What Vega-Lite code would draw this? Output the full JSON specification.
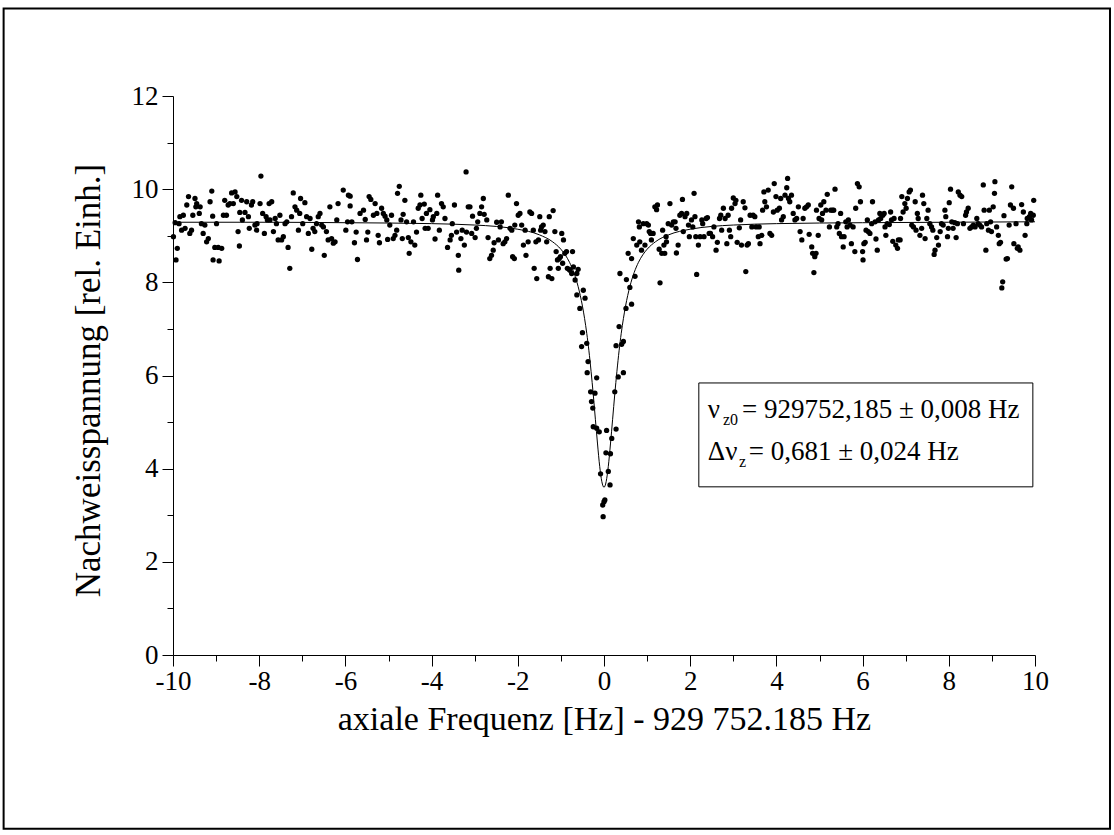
{
"$schema": "https://vega.github.io/schema/vega-lite/v6.json",
"autosize": {"type": "none"},
"padding": {"left": 173, "top": 96, "right": 79, "bottom": 180},
"width": 862,
"height": 559,
"background": "white",
"config": {"view": {"stroke": null}, "font": "Liberation Serif, Times New Roman, Times, serif"},
"datasets": {
"one": [{"k": 1}],
"curve": [
{"x":-10,"y":9.29},{"x":-8,"y":9.29},{"x":-6,"y":9.28},{"x":-4,"y":9.26},{"x":-3,"y":9.23},{"x":-2.5,"y":9.2},{"x":-2,"y":9.14},{"x":-1.5,"y":9.02},{"x":-1.2,"y":8.875},{"x":-1,"y":8.71},{"x":-0.9,"y":8.59},{"x":-0.8,"y":8.43},{"x":-0.7,"y":8.21},{"x":-0.6,"y":7.91},{"x":-0.5,"y":7.49},{"x":-0.4,"y":6.905},{"x":-0.35,"y":6.53},{"x":-0.3,"y":6.09},{"x":-0.25,"y":5.6},{"x":-0.2,"y":5.06},{"x":-0.15,"y":4.53},{"x":-0.1,"y":4.05},{"x":-0.05,"y":3.72},{"x":0,"y":3.6},
{"x":0.05,"y":3.72},{"x":0.1,"y":4.05},{"x":0.15,"y":4.53},{"x":0.2,"y":5.06},{"x":0.25,"y":5.6},{"x":0.3,"y":6.09},{"x":0.35,"y":6.53},{"x":0.4,"y":6.905},{"x":0.5,"y":7.49},{"x":0.6,"y":7.91},{"x":0.7,"y":8.21},{"x":0.8,"y":8.43},{"x":0.9,"y":8.59},{"x":1,"y":8.71},{"x":1.2,"y":8.875},{"x":1.5,"y":9.02},{"x":2,"y":9.14},{"x":2.5,"y":9.2},{"x":3,"y":9.23},{"x":4,"y":9.26},{"x":6,"y":9.28},{"x":8,"y":9.29},{"x":10,"y":9.3}
],
"points": [
{"x":-9.99,"y":8.98},{"x":-9.9,"y":8.73},{"x":-9.93,"y":8.48},{"x":-9.95,"y":9.28},{"x":-9.86,"y":9.26},{"x":-9.84,"y":9.41},{"x":-9.8,"y":9.12},{"x":-9.76,"y":9.44},{"x":-9.72,"y":9.16},{"x":-9.68,"y":9.66},{"x":-9.64,"y":9.84},{"x":-9.61,"y":9.05},{"x":-9.57,"y":9.12},{"x":-9.54,"y":9.44},{"x":-9.49,"y":9.8},{"x":-9.47,"y":9.62},{"x":-9.45,"y":9.69},{"x":-9.39,"y":9.48},{"x":-9.37,"y":9.62},{"x":-9.34,"y":9.26},{"x":-9.3,"y":9.05},{"x":-9.26,"y":9.23},{"x":-9.22,"y":8.87},{"x":-9.18,"y":8.94},{"x":-9.14,"y":9.73},{"x":-9.1,"y":9.96},{"x":-9.08,"y":9.42},{"x":-9.07,"y":8.48},{"x":-9.03,"y":8.75},{"x":-8.99,"y":9.26},{"x":-8.95,"y":8.75},{"x":-8.93,"y":8.46},{"x":-8.87,"y":8.73},{"x":-8.83,"y":9.44},{"x":-8.8,"y":9.76},{"x":-8.76,"y":9.44},{"x":-8.72,"y":9.66},{"x":-8.68,"y":9.69},{"x":-8.64,"y":9.92},{"x":-8.6,"y":9.69},{"x":-8.56,"y":9.94},{"x":-8.52,"y":9.84},{"x":-8.49,"y":9.09},{"x":-8.46,"y":8.78},{"x":-8.45,"y":9.5},{"x":-8.41,"y":9.76},{"x":-8.39,"y":9.34},{"x":-8.33,"y":9.5},{"x":-8.29,"y":9.73},{"x":-8.25,"y":9.41},{"x":-8.23,"y":9.16},{"x":-8.18,"y":9.66},{"x":-8.15,"y":9.73},{"x":-8.1,"y":9.23},{"x":-8.06,"y":9.12},{"x":-8.05,"y":9.26},{"x":-7.98,"y":9.69},{"x":-7.96,"y":10.28},{"x":-7.92,"y":9.48},{"x":-7.88,"y":9.05},{"x":-7.84,"y":9.41},{"x":-7.81,"y":9.34},{"x":-7.77,"y":9.69},{"x":-7.75,"y":9.34},{"x":-7.71,"y":9.73},{"x":-7.67,"y":9.09},{"x":-7.63,"y":9.37},{"x":-7.6,"y":9.26},{"x":-7.56,"y":8.91},{"x":-7.52,"y":9.44},{"x":-7.48,"y":8.91},{"x":-7.44,"y":8.98},{"x":-7.4,"y":9.26},{"x":-7.36,"y":9.3},{"x":-7.33,"y":8.75},{"x":-7.29,"y":8.3},{"x":-7.25,"y":9.41},{"x":-7.21,"y":9.92},{"x":-7.17,"y":9.62},{"x":-7.13,"y":9.55},{"x":-7.09,"y":9.12},{"x":-7.06,"y":9.48},{"x":-7.04,"y":9.8},{"x":-6.99,"y":9.26},{"x":-6.94,"y":9.71},{"x":-6.9,"y":9.41},{"x":-6.86,"y":9.05},{"x":-6.82,"y":9.37},{"x":-6.78,"y":8.71},{"x":-6.75,"y":9.16},{"x":-6.71,"y":9.09},{"x":-6.67,"y":9.26},{"x":-6.63,"y":9.41},{"x":-6.59,"y":9.48},{"x":-6.55,"y":9.23},{"x":-6.51,"y":9.19},{"x":-6.49,"y":8.58},{"x":-6.44,"y":9.09},{"x":-6.4,"y":8.91},{"x":-6.36,"y":9.62},{"x":-6.32,"y":8.94},{"x":-6.28,"y":8.84},{"x":-6.24,"y":8.87},{"x":-6.2,"y":9.34},{"x":-6.17,"y":9.69},{"x":-6.05,"y":9.98},{"x":-5.99,"y":9.12},{"x":-5.93,"y":9.87},{"x":-5.95,"y":9.3},
{"x":-5.89,"y":9.85},{"x":-5.89,"y":9.64},{"x":-5.85,"y":9.3},{"x":-5.79,"y":8.85},{"x":-5.75,"y":9.08},{"x":-5.72,"y":8.49},{"x":-5.66,"y":9.48},{"x":-5.58,"y":9.55},{"x":-5.54,"y":9.35},{"x":-5.51,"y":8.91},{"x":-5.48,"y":9.08},{"x":-5.45,"y":9.84},{"x":-5.41,"y":9.78},{"x":-5.35,"y":9.44},{"x":-5.31,"y":9.69},{"x":-5.27,"y":9.48},{"x":-5.24,"y":9.01},{"x":-5.21,"y":8.85},{"x":-5.16,"y":9.59},{"x":-5.12,"y":9.48},{"x":-5.08,"y":9.42},{"x":-5.04,"y":9.34},{"x":-5.02,"y":8.92},{"x":-4.97,"y":9.23},{"x":-4.93,"y":9.44},{"x":-4.89,"y":8.94},{"x":-4.85,"y":9.01},{"x":-4.81,"y":9.12},{"x":-4.79,"y":9.91},{"x":-4.75,"y":10.06},{"x":-4.71,"y":9.34},{"x":-4.68,"y":8.94},{"x":-4.66,"y":9.46},{"x":-4.62,"y":9.76},{"x":-4.58,"y":9.3},{"x":-4.54,"y":8.96},{"x":-4.52,"y":8.62},{"x":-4.48,"y":8.87},{"x":-4.42,"y":9.3},{"x":-4.39,"y":8.8},{"x":-4.35,"y":9.08},{"x":-4.31,"y":9.59},{"x":-4.27,"y":9.66},{"x":-4.25,"y":9.87},{"x":-4.22,"y":9.37},{"x":-4.17,"y":9.68},{"x":-4.15,"y":9.16},{"x":-4.12,"y":9.48},{"x":-4.08,"y":9.16},{"x":-4.04,"y":9.56},{"x":-3.98,"y":9.34},{"x":-3.96,"y":9.41},{"x":-3.92,"y":8.93},{"x":-3.88,"y":9.48},{"x":-3.86,"y":9.87},{"x":-3.82,"y":9.12},{"x":-3.77,"y":9.69},{"x":-3.73,"y":9.62},{"x":-3.69,"y":9.37},{"x":-3.63,"y":8.75},{"x":-3.57,"y":8.91},{"x":-3.54,"y":9.01},{"x":-3.52,"y":9.26},{"x":-3.47,"y":9.66},{"x":-3.42,"y":9.08},{"x":-3.38,"y":8.58},{"x":-3.37,"y":8.26},{"x":-3.32,"y":8.94},{"x":-3.29,"y":9.12},{"x":-3.24,"y":8.8},{"x":-3.2,"y":10.37},{"x":-3.19,"y":9.08},{"x":-3.15,"y":9.62},{"x":-3.11,"y":9.62},{"x":-3.07,"y":9.05},{"x":-3.05,"y":9.42},{"x":-2.99,"y":8.96},{"x":-2.96,"y":9.16},{"x":-2.93,"y":9.3},{"x":-2.88,"y":9.48},{"x":-2.84,"y":9.62},{"x":-2.8,"y":9.8},{"x":-2.78,"y":9.46},{"x":-2.72,"y":9.34},{"x":-2.69,"y":8.96},{"x":-2.65,"y":8.51},{"x":-2.61,"y":8.58},{"x":-2.57,"y":8.69},{"x":-2.55,"y":8.85},{"x":-2.49,"y":9.29},{"x":-2.45,"y":8.91},{"x":-2.41,"y":9.19},{"x":-2.38,"y":9.3},{"x":-2.34,"y":8.83},{"x":-2.3,"y":8.87},{"x":-2.26,"y":8.94},{"x":-2.22,"y":9.87},{"x":-2.18,"y":9.16},{"x":-2.14,"y":9.12},{"x":-2.12,"y":8.55},{"x":-2.08,"y":8.51},{"x":-2.07,"y":9.23},{"x":-2.03,"y":9.69},{"x":-1.99,"y":9.44},{"x":-1.95,"y":9.48},{"x":-1.91,"y":9.23},{"x":-1.87,"y":8.8},{"x":-1.83,"y":9.12},
{"x":-1.81,"y":8.58},{"x":-1.76,"y":8.87},{"x":-1.72,"y":9.51},{"x":-1.68,"y":9.48},{"x":-1.64,"y":9.12},{"x":-1.62,"y":8.3},{"x":-1.58,"y":8.87},{"x":-1.56,"y":8.08},{"x":-1.52,"y":8.91},{"x":-1.49,"y":9.41},{"x":-1.47,"y":9.12},{"x":-1.45,"y":9.19},{"x":-1.41,"y":9.23},{"x":-1.37,"y":9.09},{"x":-1.33,"y":8.87},{"x":-1.29,"y":8.12},{"x":-1.27,"y":9.41},{"x":-1.25,"y":8.3},{"x":-1.21,"y":8.08},{"x":-1.18,"y":9.54},{"x":-1.14,"y":9.09},{"x":-1.11,"y":8.66},{"x":-1.08,"y":8.48},{"x":-1.06,"y":8.3},{"x":-1.04,"y":8.51},{"x":-1.01,"y":8.55},{"x":-0.98,"y":9.05},{"x":-0.96,"y":8.41},{"x":-0.94,"y":8.91},{"x":-0.91,"y":8.62},{"x":-0.87,"y":8.66},{"x":-0.85,"y":8.3},{"x":-0.81,"y":8.28},{"x":-0.79,"y":8.26},{"x":-0.75,"y":8.19},{"x":-0.73,"y":8.66},{"x":-0.71,"y":8.33},{"x":-0.67,"y":8.05},{"x":-0.63,"y":8.19},{"x":-0.6,"y":8.28},{"x":-0.63,"y":7.73},{"x":-0.48,"y":7.83},{"x":-0.44,"y":7.66},
{"x":-0.56,"y":7.44},{"x":-0.5,"y":6.92},{"x":-0.52,"y":6.62},{"x":-0.4,"y":6.69},{"x":-0.37,"y":6.3},{"x":-0.39,"y":6.06},{"x":-0.17,"y":5.95},{"x":-0.31,"y":5.65},{"x":-0.21,"y":5.62},{"x":-0.29,"y":5.44},{"x":-0.26,"y":5.3},{"x":-0.25,"y":4.9},{"x":-0.17,"y":4.87},{"x":-0.11,"y":4.79},{"x":-0.08,"y":3.89},{"x":0,"y":3.29},{"x":0.02,"y":3.33},{"x":-0.03,"y":3.22},{"x":-0.02,"y":2.97},
{"x":0.64,"y":7.53},{"x":0.51,"y":7.44},{"x":0.35,"y":7.05},{"x":0.45,"y":6.73},{"x":0.28,"y":6.64},{"x":0.41,"y":6.67},{"x":0.45,"y":6.06},{"x":0.33,"y":5.97},{"x":0.25,"y":5.65},{"x":0.28,"y":4.85},{"x":0.18,"y":4.65},{"x":0.06,"y":4.82},{"x":0.045,"y":4.34},{"x":0.15,"y":4.32},{"x":0.1,"y":3.94},{"x":0.14,"y":3.65},
{"x":0.37,"y":8.19},{"x":0.52,"y":8.06},{"x":0.56,"y":8.62},{"x":0.6,"y":7.89},{"x":0.64,"y":8.51},{"x":0.68,"y":8.94},{"x":0.72,"y":8.13},{"x":0.76,"y":8.8},{"x":0.8,"y":9.3},{"x":0.82,"y":9.19},{"x":0.83,"y":8.87},{"x":0.87,"y":8.69},{"x":0.91,"y":9.26},{"x":0.95,"y":8.8},{"x":0.99,"y":9.26},{"x":1.03,"y":9.23},{"x":1.05,"y":9.09},{"x":1.08,"y":9.05},{"x":1.1,"y":8.91},{"x":1.14,"y":9.05},{"x":1.18,"y":9.62},{"x":1.22,"y":9.56},{"x":1.24,"y":9.66},{"x":1.28,"y":8.71},{"x":1.3,"y":7.99},{"x":1.34,"y":8.62},{"x":1.36,"y":9.12},{"x":1.39,"y":8.8},{"x":1.41,"y":8.62},{"x":1.44,"y":8.98},{"x":1.45,"y":8.87},{"x":1.49,"y":9.26},{"x":1.53,"y":9.69},{"x":1.57,"y":9.23},{"x":1.61,"y":9.3},{"x":1.65,"y":9.3},{"x":1.67,"y":9.16},{"x":1.68,"y":8.63},{"x":1.72,"y":8.8},{"x":1.76,"y":9.44},{"x":1.8,"y":9.48},{"x":1.82,"y":9.78},{"x":1.84,"y":9.09},{"x":1.88,"y":9.41},{"x":1.92,"y":9.48},{"x":1.96,"y":9.23},{"x":1.98,"y":8.98},
{"x":2.03,"y":9.34},{"x":2.06,"y":9.19},{"x":2.09,"y":9.91},{"x":2.11,"y":9.41},{"x":2.13,"y":8.98},{"x":2.15,"y":8.17},{"x":2.19,"y":8.8},{"x":2.23,"y":8.98},{"x":2.27,"y":9.34},{"x":2.29,"y":9.26},{"x":2.32,"y":8.98},{"x":2.37,"y":9.37},{"x":2.4,"y":9.39},{"x":2.44,"y":9.05},{"x":2.47,"y":9.05},{"x":2.52,"y":8.98},{"x":2.55,"y":9.19},{"x":2.6,"y":8.69},{"x":2.63,"y":8.86},{"x":2.68,"y":9.37},{"x":2.71,"y":9.44},{"x":2.73,"y":9.12},{"x":2.77,"y":9.59},{"x":2.81,"y":9.37},{"x":2.85,"y":8.83},{"x":2.88,"y":9.44},{"x":2.91,"y":9.12},{"x":2.94,"y":8.98},{"x":2.96,"y":9.59},{"x":3,"y":9.81},{"x":3.04,"y":9.69},{"x":3.06,"y":9.76},{"x":3.09,"y":8.86},{"x":3.14,"y":9.17},{"x":3.17,"y":9.34},{"x":3.19,"y":8.8},{"x":3.23,"y":9.73},{"x":3.27,"y":9.6},{"x":3.29,"y":8.23},{"x":3.32,"y":8.8},{"x":3.35,"y":8.83},{"x":3.39,"y":9.44},{"x":3.43,"y":9.19},{"x":3.46,"y":9.44},{"x":3.5,"y":9.41},{"x":3.53,"y":9.19},{"x":3.58,"y":8.98},{"x":3.6,"y":9.19},{"x":3.62,"y":8.83},{"x":3.66,"y":9.01},{"x":3.68,"y":9.55},{"x":3.71,"y":9.94},{"x":3.73,"y":9.73},{"x":3.77,"y":9.62},{"x":3.81,"y":9.98},{"x":3.85,"y":9.05},{"x":3.89,"y":9.01},{"x":3.93,"y":9.51},{"x":3.95,"y":10.12},{"x":3.99,"y":9.84},{"x":4.02,"y":9.55},{"x":4.07,"y":9.59},{"x":4.1,"y":9.8},{"x":4.12,"y":9.34},{"x":4.16,"y":9.41},{"x":4.2,"y":9.87},{"x":4.24,"y":10.03},{"x":4.26,"y":10.23},{"x":4.28,"y":9.8},{"x":4.31,"y":9.73},{"x":4.35,"y":9.87},{"x":4.39,"y":9.48},{"x":4.43,"y":9.34},{"x":4.47,"y":9.37},{"x":4.51,"y":9.62},{"x":4.55,"y":9.09},{"x":4.59,"y":8.91},{"x":4.62,"y":9.37},{"x":4.66,"y":9.59},{"x":4.7,"y":9.62},{"x":4.74,"y":9.66},{"x":4.76,"y":9.03},{"x":4.82,"y":8.76},{"x":4.84,"y":8.62},{"x":4.87,"y":8.21},{"x":4.89,"y":8.55},{"x":4.92,"y":8.62},{"x":4.93,"y":9.55},{"x":4.97,"y":9.01},{"x":4.99,"y":9.37},{"x":5.03,"y":9.66},{"x":5.05,"y":9.34},{"x":5.07,"y":9.48},{"x":5.1,"y":9.73},{"x":5.15,"y":9.55},{"x":5.18,"y":9.89},{"x":5.23,"y":9.19},{"x":5.26,"y":9.55},{"x":5.3,"y":9.55},{"x":5.33,"y":9.55},{"x":5.36,"y":10},{"x":5.4,"y":9.19},{"x":5.43,"y":9.26},{"x":5.46,"y":9.05},{"x":5.49,"y":9.48},{"x":5.51,"y":8.98},{"x":5.55,"y":8.76},{"x":5.57,"y":8.98},{"x":5.61,"y":9.3},{"x":5.64,"y":9.19},{"x":5.67,"y":9.34},{"x":5.71,"y":9.23},{"x":5.74,"y":8.83},{"x":5.78,"y":9.19},{"x":5.82,"y":8.66},{"x":5.84,"y":9.59},{"x":5.88,"y":10.12},{"x":5.92,"y":10.05},{"x":5.95,"y":9.73},{"x":6,"y":8.66},{"x":6.01,"y":8.48},{"x":6.03,"y":8.83},
{"x":6.06,"y":8.86},{"x":6.08,"y":9.12},{"x":6.11,"y":9.34},{"x":6.13,"y":9.09},{"x":6.17,"y":9.05},{"x":6.21,"y":9.26},{"x":6.23,"y":9.73},{"x":6.29,"y":9.3},{"x":6.31,"y":8.93},{"x":6.34,"y":8.69},{"x":6.37,"y":9.34},{"x":6.4,"y":9.48},{"x":6.42,"y":9.37},{"x":6.47,"y":9.44},{"x":6.5,"y":9.48},{"x":6.52,"y":9.19},{"x":6.54,"y":9.01},{"x":6.57,"y":9.26},{"x":6.62,"y":9.24},{"x":6.65,"y":9.51},{"x":6.67,"y":9.34},{"x":6.7,"y":8.88},{"x":6.73,"y":9.37},{"x":6.77,"y":8.8},{"x":6.81,"y":8.73},{"x":6.83,"y":8.91},{"x":6.87,"y":8.91},{"x":6.88,"y":9.37},{"x":6.91,"y":9.84},{"x":6.94,"y":9.51},{"x":6.98,"y":9.69},{"x":7.01,"y":9.59},{"x":7.04,"y":9.8},{"x":7.08,"y":9.94},{"x":7.11,"y":9.98},{"x":7.14,"y":9.23},{"x":7.18,"y":9.19},{"x":7.22,"y":9.73},{"x":7.24,"y":9.12},{"x":7.27,"y":9.48},{"x":7.29,"y":9.37},{"x":7.33,"y":9.01},{"x":7.37,"y":9.16},{"x":7.39,"y":9.87},{"x":7.42,"y":9.69},{"x":7.45,"y":8.94},{"x":7.49,"y":9.37},{"x":7.52,"y":9.55},{"x":7.56,"y":9.26},{"x":7.6,"y":9.19},{"x":7.63,"y":9.12},{"x":7.66,"y":8.6},{"x":7.68,"y":8.69},{"x":7.72,"y":8.96},{"x":7.76,"y":8.8},{"x":7.8,"y":9.09},{"x":7.83,"y":9.26},{"x":7.87,"y":9.23},{"x":7.91,"y":9.55},{"x":7.93,"y":9.41},{"x":7.97,"y":8.98},{"x":7.99,"y":9.16},{"x":8.01,"y":9.71},{"x":8.04,"y":10},{"x":8.07,"y":9.3},{"x":8.1,"y":9.16},{"x":8.14,"y":9.28},{"x":8.17,"y":8.96},{"x":8.2,"y":9.26},{"x":8.22,"y":9.94},{"x":8.26,"y":9.87},{"x":8.3,"y":9.84},{"x":8.34,"y":9.26},{"x":8.39,"y":9.44},{"x":8.41,"y":9.51},{"x":8.45,"y":9.59},{"x":8.49,"y":9.16},{"x":8.53,"y":9.19},{"x":8.57,"y":9.23},{"x":8.61,"y":9.19},{"x":8.65,"y":9.37},{"x":8.68,"y":9.26},{"x":8.72,"y":9.23},{"x":8.76,"y":9.19},{"x":8.8,"y":10.09},{"x":8.82,"y":9.55},{"x":8.86,"y":8.69},{"x":8.88,"y":9.26},{"x":8.92,"y":9.12},{"x":8.94,"y":9.55},{"x":8.97,"y":9.3},{"x":8.99,"y":9.09},{"x":9.03,"y":9.62},{"x":9.06,"y":9.91},{"x":9.07,"y":10.16},{"x":9.11,"y":9.19},{"x":9.15,"y":9.01},{"x":9.17,"y":8.83},{"x":9.2,"y":8.86},{"x":9.25,"y":8.01},{"x":9.23,"y":7.88},{"x":9.28,"y":9.43},{"x":9.33,"y":8.5},{"x":9.36,"y":8.51},{"x":9.4,"y":9.23},{"x":9.43,"y":9.66},{"x":9.46,"y":10.05},{"x":9.5,"y":9.59},{"x":9.51,"y":8.83},{"x":9.56,"y":9.26},{"x":9.59,"y":8.73},{"x":9.61,"y":8.76},{"x":9.65,"y":8.69},{"x":9.69,"y":9.67},{"x":9.73,"y":9.51},{"x":9.77,"y":9.01},{"x":9.81,"y":9.26},{"x":9.82,"y":9.37},{"x":9.87,"y":9.41},{"x":9.9,"y":9.48},{"x":9.92,"y":9.34},{"x":9.96,"y":9.44},{"x":9.97,"y":9.76}
]
},
"encoding": {
"x": {"type": "quantitative",
"scale": {"domain": [-10, 10], "nice": false, "zero": false},
"axis": {"values": [-10,-9,-8,-7,-6,-5,-4,-3,-2,-1,0,1,2,3,4,5,6,7,8,9,10],
"labelExpr": "datum.value % 2 === 0 ? '' + datum.value : ''",
"tickSize": {"condition": {"test": "datum.value % 2 !== 0", "value": 6}, "value": 11},
"grid": false, "domainColor": "black", "tickColor": "black", "labelColor": "black",
"labelFont": "Liberation Serif, Times New Roman, Times, serif", "labelFontSize": 27, "labelPadding": 2, "labelFlush": false, "labelOverlap": false,
"title": "axiale Frequenz [Hz] - 929 752.185 Hz", "titleFont": "Liberation Serif, Times New Roman, Times, serif", "titleFontSize": 34, "titleFontWeight": "normal", "titleColor": "black",
"titleX": 431, "titleY": 74, "titleBaseline": "alphabetic", "titleAlign": "center"}},
"y": {"type": "quantitative",
"scale": {"domain": [0, 12], "nice": false, "zero": false},
"axis": {"values": [0,1,2,3,4,5,6,7,8,9,10,11,12],
"labelExpr": "datum.value % 2 === 0 ? '' + datum.value : ''",
"tickSize": {"condition": {"test": "datum.value % 2 !== 0", "value": 6}, "value": 11},
"grid": false, "domainColor": "black", "tickColor": "black", "labelColor": "black",
"labelFont": "Liberation Serif, Times New Roman, Times, serif", "labelFontSize": 27, "labelPadding": 4, "labelFlush": false, "labelOverlap": false,
"title": "Nachweisspannung [rel. Einh.]", "titleFont": "Liberation Serif, Times New Roman, Times, serif", "titleFontSize": 35, "titleFontWeight": "normal", "titleColor": "black",
"titleX": -85, "titleY": 284, "titleBaseline": "middle", "titleAlign": "center", "titleAngle": -90}}
},
"layer": [
{
"data": {"name": "points"},
"mark": {"type": "point", "filled": true, "color": "black", "size": 28, "opacity": 1},
"encoding": {"x": {"field": "x"}, "y": {"field": "y"}}
},
{
"data": {"name": "curve"},
"mark": {"type": "line", "color": "black", "strokeWidth": 1, "interpolate": "monotone"},
"encoding": {"x": {"field": "x"}, "y": {"field": "y"}}
},
{
"data": {"name": "one"},
"mark": {"type": "rect", "stroke": "black", "strokeWidth": 1, "fill": "white", "fillOpacity": 0},
"encoding": {"x": {"datum": 2.2}, "x2": {"datum": 9.95}, "y": {"datum": 5.84}, "y2": {"datum": 3.61}}
},
{
"data": {"name": "one"},
"mark": {"type": "text", "font": "Liberation Serif, Times New Roman, Times, serif", "fontSize": 27, "align": "left", "baseline": "alphabetic", "color": "black", "text": "ν"},
"encoding": {"x": {"datum": 2.41}, "y": {"datum": 5.09}}
},
{
"data": {"name": "one"},
"mark": {"type": "text", "font": "Liberation Serif, Times New Roman, Times, serif", "fontSize": 16, "align": "left", "baseline": "alphabetic", "color": "black", "text": "z0"},
"encoding": {"x": {"datum": 2.76}, "y": {"datum": 4.94}}
},
{
"data": {"name": "one"},
"mark": {"type": "text", "font": "Liberation Serif, Times New Roman, Times, serif", "fontSize": 27, "align": "left", "baseline": "alphabetic", "color": "black", "text": "= 929752,185 ± 0,008 Hz"},
"encoding": {"x": {"datum": 3.2}, "y": {"datum": 5.09}}
},
{
"data": {"name": "one"},
"mark": {"type": "text", "font": "Liberation Serif, Times New Roman, Times, serif", "fontSize": 27, "align": "left", "baseline": "alphabetic", "color": "black", "text": "Δν"},
"encoding": {"x": {"datum": 2.41}, "y": {"datum": 4.18}}
},
{
"data": {"name": "one"},
"mark": {"type": "text", "font": "Liberation Serif, Times New Roman, Times, serif", "fontSize": 16, "align": "left", "baseline": "alphabetic", "color": "black", "text": "z"},
"encoding": {"x": {"datum": 3.13}, "y": {"datum": 4.03}}
},
{
"data": {"name": "one"},
"mark": {"type": "text", "font": "Liberation Serif, Times New Roman, Times, serif", "fontSize": 27, "align": "left", "baseline": "alphabetic", "color": "black", "text": "= 0,681 ± 0,024 Hz"},
"encoding": {"x": {"datum": 3.36}, "y": {"datum": 4.18}}
},
{
"data": {"name": "one"},
"mark": {"type": "rect", "stroke": "black", "strokeWidth": 2, "fill": "white", "fillOpacity": 0, "clip": false},
"encoding": {"x": {"datum": -13.93}, "x2": {"datum": 11.74}, "y": {"datum": 13.88}, "y2": {"datum": -3.73}}
}
]
}
